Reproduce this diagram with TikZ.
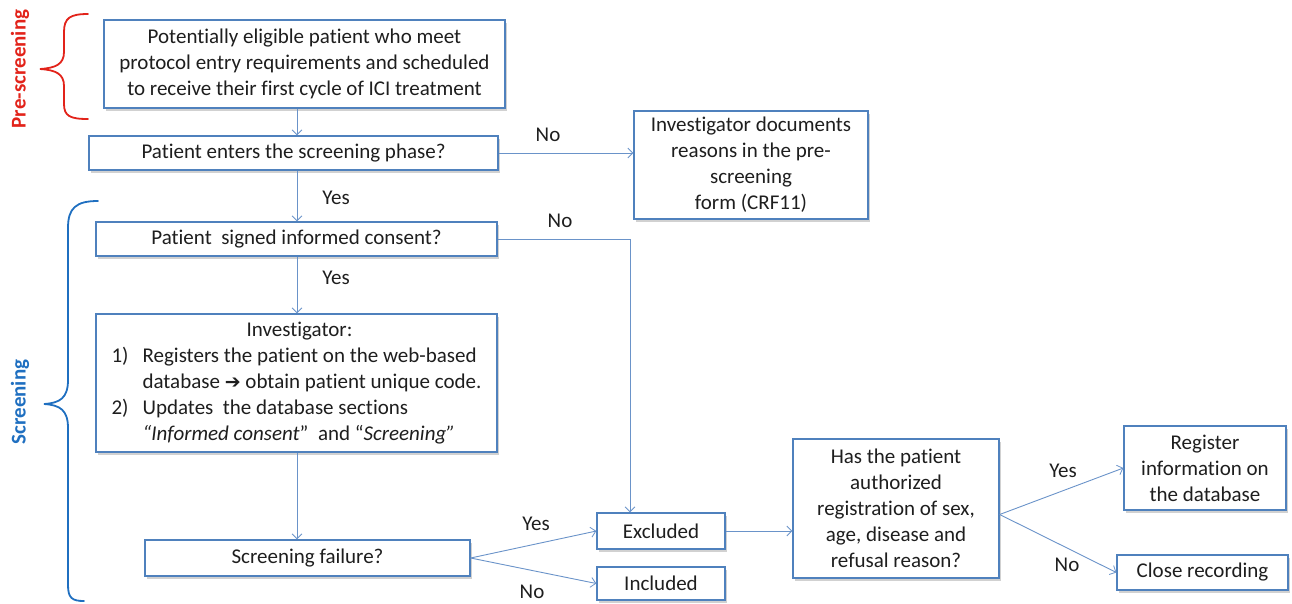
\documentclass[tikz,border=0pt]{standalone}
\usepackage{fontspec}
\setmainfont{Carlito}[Ligatures=NoCommon]
\newfontfamily\dejavu{DejaVu Sans}
\usetikzlibrary{arrows.meta,shadows,calc}
\definecolor{boxblue}{HTML}{4F81BD}
\definecolor{linkblue}{HTML}{6A93C9}
\definecolor{txt}{HTML}{1E1E1E}
\definecolor{prered}{HTML}{E2231A}
\definecolor{scrblue}{HTML}{1F6FC0}
\begin{document}
\begin{tikzpicture}[x=1pt,y=-1pt,
  box/.style={draw=boxblue,line width=1.3pt,fill=white,inner sep=0pt,align=center,
    text=txt,font=\fontsize{21}{26}\selectfont,
    drop shadow={shadow xshift=2pt,shadow yshift=-2.5pt,opacity=0.3,fill=black!60}},
  link/.style={draw=linkblue,line width=0.9pt},
  arr/.style={link,-{Straight Barb[length=5pt,width=10pt,line width=0.8pt]}},
  lbl/.style={text=txt,font=\fontsize{21}{25}\selectfont,inner sep=0pt}]
\useasboundingbox (0,0) rectangle (1292,603);

% nodes
\node[box,minimum width=401pt,minimum height=88pt] (b1) at (304.5,64)
  {Potentially eligible patient who meet\\protocol entry requirements and scheduled\\to receive their first cycle of ICI treatment};
\node[box,minimum width=409pt,minimum height=34pt] (b2) at (293.5,153)
  {Patient enters the screening phase?};
\node[box,minimum width=234pt,minimum height=108pt] (inv) at (751,165)
  {Investigator documents\\reasons in the pre-\\screening\\form (CRF11)};
\node[box,minimum width=401pt,minimum height=34pt] (b3) at (296.5,239)
  {Patient\ \ signed informed consent?};
\node[box,minimum width=401pt,minimum height=138pt] (b4) at (296.5,383)
  {\begin{tabular}{@{}l@{\hspace{14pt}}l@{}}
   \multicolumn{2}{c}{\hspace{6pt}Investigator:}\\
   1) & Registers the patient on the web-based\\
      & database {\dejavu\fontsize{19}{20}\selectfont ➔} obtain patient unique code.\\
   2) & Updates\ \ the database sections\\
      & \textit{``Informed consent}''\ \ and ``\textit{Screening''}
   \end{tabular}};
\node[box,minimum width=325pt,minimum height=36pt] (sf) at (307.5,558)
  {Screening failure?};
\node[box,minimum width=128pt,minimum height=36pt] (excl) at (661,531)
  {Excluded};
\node[box,minimum width=128pt,minimum height=33pt] (incl) at (661,583.5)
  {Included};
\node[box,minimum width=206pt,minimum height=139pt] (has) at (896,508.5)
  {Has the patient\\authorized\\registration of sex,\\age, disease and\\refusal reason?};
\node[box,minimum width=162pt,minimum height=84pt] (reg) at (1205,468)
  {Register\\information on\\the database};
\node[box,minimum width=171pt,minimum height=35pt] (close) at (1202.5,572.5)
  {Close recording};

% helper coordinates
\coordinate (xl) at (297,0);
\coordinate (xn) at (630,0);

% connectors
\draw[arr] (b1.south -| xl) -- (b2.north -| xl);
\draw[arr] (b2.east) -- (b2.east -| inv.west);
\draw[arr] (b2.south -| xl) -- (b3.north -| xl);
\draw[arr] (b3.east) -- (b3.east -| xn) -- (excl.north -| xn);
\draw[arr] (b3.south -| xl) -- (b4.north -| xl);
\draw[arr] (b4.south -| xl) -- (sf.north -| xl);
\draw[arr] (sf.east) -- (excl.west);
\draw[arr] (sf.east) -- (incl.west);
\draw[arr] (excl.east) -- (excl.east -| has.west);
\draw[arr] ($(has.east)+(0,6)$) coordinate (hs) -- (reg.west);
\draw[arr] (hs) -- (close.west);

% labels
\node[lbl] (l1) at (548,135) {No};
\node[lbl] (l2) at (336,198) {Yes};
\node[lbl] (l3) at (560,221) {No};
\node[lbl] (l4) at (336,278) {Yes};
\node[lbl] (l5) at (536,524) {Yes};
\node[lbl] (l6) at (532,592) {No};
\node[lbl] (l7) at (1063,471) {Yes};
\node[lbl] (l8) at (1067,565) {No};

% braces
\draw[prered,line width=1.8pt,line cap=round]
  (88,14) .. controls (70,14) and (64,18) .. (64,32) -- (64,52)
  .. controls (64,64) and (56,68) .. (40,69)
  .. controls (56,70) and (64,74) .. (64,86) -- (64,104)
  .. controls (64,116) and (70,119) .. (88,119);
\draw[scrblue,line width=1.8pt,line cap=round]
  (98,201) .. controls (76,201) and (68,208) .. (68,228) -- (68,380)
  .. controls (68,398) and (60,403) .. (44,404)
  .. controls (60,405) and (68,410) .. (68,428) -- (68,585)
  .. controls (68,598) and (72,601) .. (84,601);
\node[rotate=90,text=prered,font=\fontsize{21}{24}\selectfont\bfseries,inner sep=0pt] (pre) at (20,69) {Pre-screening};
\node[rotate=90,text=scrblue,font=\fontsize{21}{24}\selectfont\bfseries,inner sep=0pt] (scr) at (20,402) {Screening};
\end{tikzpicture}
\end{document}
